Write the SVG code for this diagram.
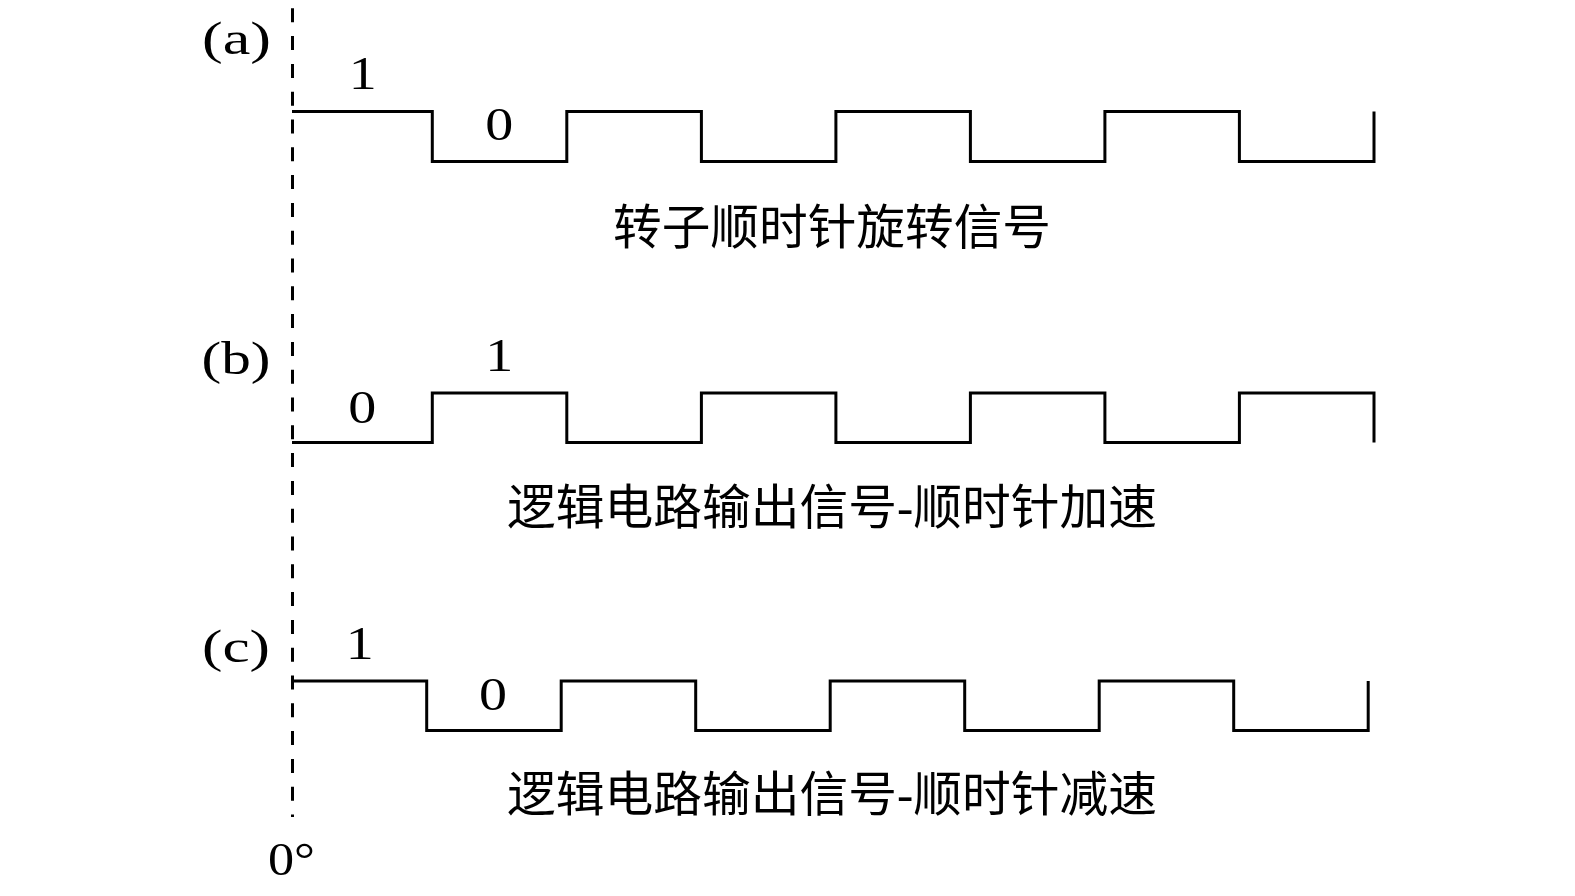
<svg xmlns="http://www.w3.org/2000/svg" width="1575" height="896" viewBox="0 0 1575 896">
<style>
.wave{fill:none;stroke:#000;stroke-width:3;stroke-linejoin:miter;stroke-linecap:butt}
.axis{fill:none;stroke:#000;stroke-width:3;stroke-dasharray:14 13.8}
.num{font-family:"Liberation Serif",serif;font-size:46px;fill:#000;text-anchor:middle}
.lbl{font-family:"Liberation Serif",serif;font-size:47px;fill:#000}
.cap{font-family:"Liberation Serif","Noto Sans CJK SC",serif;font-size:48px;fill:#000;text-anchor:middle}
</style>
<rect width="1575" height="896" fill="#fff"/>
<g id="axis">
<line class="axis" x1="292.5" y1="8.3" x2="292.5" y2="817"/>
<text class="lbl" x="268" y="874.5" textLength="47" lengthAdjust="spacingAndGlyphs">0°</text>
</g>
<g id="waves">
<path id="wave-a" class="wave" d="M292,111.5 H432.3 V161.5 H566.8 V111.5 H701.4 V161.5 H835.9 V111.5 H970.4 V161.5 H1104.9 V111.5 H1239.4 V161.5 H1374 V111.5"/>
<path id="wave-b" class="wave" d="M292,442.5 H432.3 V393 H566.8 V442.5 H701.4 V393 H835.9 V442.5 H970.4 V393 H1104.9 V442.5 H1239.4 V393 H1374 V442.5"/>
<path id="wave-c" class="wave" d="M292,681 H426.7 V730.5 H561.2 V681 H695.7 V730.5 H830.2 V681 H964.7 V730.5 H1099.2 V681 H1233.7 V730.5 H1368.2 V681"/>
</g>
<g id="panel-a">
<text class="lbl" x="202" y="54" textLength="69" lengthAdjust="spacingAndGlyphs">(a)</text>
<text class="num" x="362.7" y="89.3" textLength="28" lengthAdjust="spacingAndGlyphs">1</text>
<text class="num" x="499.3" y="139.5" textLength="28" lengthAdjust="spacingAndGlyphs">0</text>
<text class="cap" x="832" y="244" textLength="438" lengthAdjust="spacingAndGlyphs">转子顺时针旋转信号</text>
</g>
<g id="panel-b">
<text class="lbl" x="201.5" y="373.5" textLength="69" lengthAdjust="spacingAndGlyphs">(b)</text>
<text class="num" x="362.3" y="423" textLength="28" lengthAdjust="spacingAndGlyphs">0</text>
<text class="num" x="499.3" y="371" textLength="28" lengthAdjust="spacingAndGlyphs">1</text>
<text class="cap" x="832" y="524" textLength="650" lengthAdjust="spacingAndGlyphs">逻辑电路输出信号-顺时针加速</text>
</g>
<g id="panel-c">
<text class="lbl" x="202" y="662" textLength="68" lengthAdjust="spacingAndGlyphs">(c)</text>
<text class="num" x="359.7" y="659" textLength="28" lengthAdjust="spacingAndGlyphs">1</text>
<text class="num" x="493" y="710" textLength="28" lengthAdjust="spacingAndGlyphs">0</text>
<text class="cap" x="832" y="811" textLength="650" lengthAdjust="spacingAndGlyphs">逻辑电路输出信号-顺时针减速</text>
</g>
</svg>
